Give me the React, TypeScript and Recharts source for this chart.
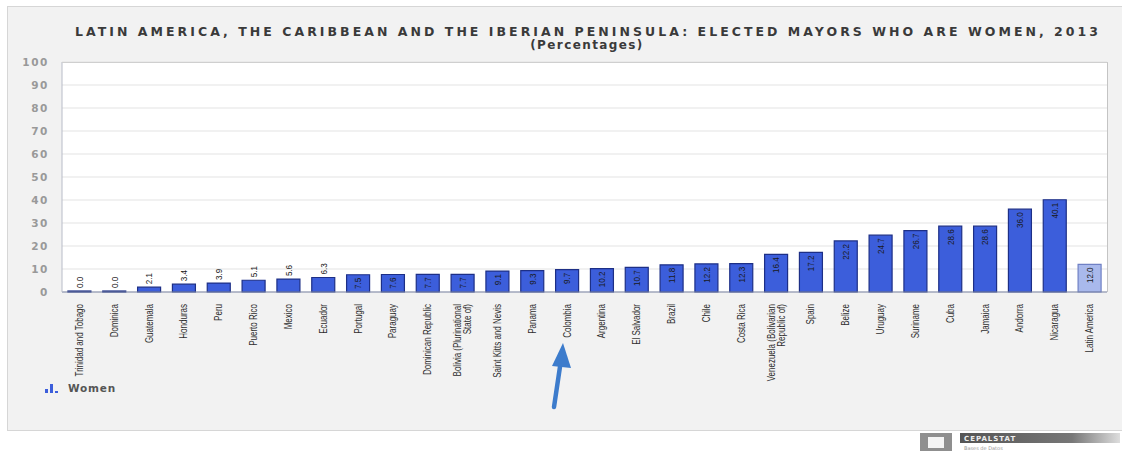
import { BarChart, Bar, XAxis, YAxis, CartesianGrid, Cell, LabelList } from "recharts";

const countries = [
  "Trinidad and Tobago",
  "Dominica",
  "Guatemala",
  "Honduras",
  "Peru",
  "Puerto Rico",
  "Mexico",
  "Ecuador",
  "Portugal",
  "Paraguay",
  "Dominican Republic",
  "Bolivia (Plurinational State of)",
  "Saint Kitts and Nevis",
  "Panama",
  "Colombia",
  "Argentina",
  "El Salvador",
  "Brazil",
  "Chile",
  "Costa Rica",
  "Venezuela (Bolivarian Republic of)",
  "Spain",
  "Belize",
  "Uruguay",
  "Suriname",
  "Cuba",
  "Jamaica",
  "Andorra",
  "Nicaragua",
  "Latin America",
];

const women = [
  0.0, 0.0, 2.1, 3.4, 3.9, 5.1, 5.6, 6.3, 7.5, 7.6, 7.7, 7.7, 9.1, 9.3, 9.7, 10.2, 10.7, 11.8, 12.2, 12.3,
  16.4, 17.2, 22.2, 24.7, 26.7, 28.6, 28.6, 36.0, 40.1, 12.0,
];

const yTicks = [0, 10, 20, 30, 40, 50, 60, 70, 80, 90, 100];

const TITLE = "LATIN AMERICA, THE CARIBBEAN AND THE IBERIAN PENINSULA: ELECTED MAYORS WHO ARE WOMEN, 2013";
const SUBTITLE = "(Percentages)";

const data = countries.map((name, i) => ({ name, value: women[i] }));

const BAR = "#3c5edb";
const BAR_EDGE = "#1d2f86";
const AVG = "#a9b9ec";
const AVG_EDGE = "#6f80c4";
const NARROW = "'Liberation Sans Narrow', 'Liberation Sans', Arial, sans-serif";
const WIDE = "'DejaVu Sans', Verdana, sans-serif";

function wrap(name: string, max = 22) {
  const lines: string[] = [];
  let cur = "";
  for (const w of name.split(" ")) {
    const next = cur ? cur + " " + w : w;
    if (next.length > max && cur) {
      lines.push(cur);
      cur = w;
    } else cur = next;
  }
  lines.push(cur);
  return lines;
}

// rotated, condensed country names (the original uses a narrow face)
function CountryTick({ x, y, payload }: any) {
  const lines = wrap(String(payload.value));
  const lh = 10;
  const start = -((lines.length - 1) * lh) / 2;
  return (
    <text
      transform={`translate(${x},${y + 4}) rotate(-90) scale(0.8,1)`}
      textAnchor="end"
      fontFamily={NARROW}
      fontSize={10}
      fill="#2e2e2e"
    >
      {lines.map((l, i) => (
        <tspan key={i} x={0} y={start + i * lh} dy="0.35em">
          {l}
        </tspan>
      ))}
    </text>
  );
}

function ValueLabel({ x, y, width, height, value }: any) {
  const cx = Number(x) + Number(width) / 2;
  const inside = Number(height) > 16;
  const ty = inside ? Number(y) + 3 : Number(y) - 3;
  return (
    <text
      transform={`translate(${cx},${ty}) rotate(-90) scale(0.85,1)`}
      textAnchor={inside ? "end" : "start"}
      dy="0.35em"
      fontFamily={NARROW}
      fontSize={9.5}
      fill="#1a1a1a"
    >
      {Number(value).toFixed(1)}
    </text>
  );
}

export default function App() {
  return (
    <div style={{ position: "absolute", left: 0, top: 0, width: 1122, height: 455, background: "#fff", overflow: "hidden" }}>
      <div
        style={{
          position: "absolute",
          left: 7,
          top: 6,
          width: 1118,
          height: 423,
          background: "#f2f2f2",
          border: "1px solid #d6d6d6",
        }}
      />
      <div style={{ position: "absolute", left: 0, top: 0 }}>
        <BarChart
          width={1122}
          height={455}
          data={data}
          margin={{ top: 62, right: 15, bottom: 0, left: 0 }}
          barCategoryGap="17%"
        >
          <CartesianGrid vertical={false} stroke="#e3e3e3" fill="#ffffff" />
          <XAxis
            dataKey="name"
            interval={0}
            tick={<CountryTick />}
            tickLine={false}
            axisLine={{ stroke: "#7d86a6" }}
            height={163}
          />
          <YAxis
            domain={[0, 100]}
            ticks={yTicks}
            interval={0}
            width={62}
            tickLine={false}
            axisLine={{ stroke: "#b8bcc8" }}
            tick={{ fill: "#999", fontSize: 10.5, fontFamily: WIDE, fontWeight: "bold", letterSpacing: 1.6 }}
            tickMargin={7}
          />
          <Bar dataKey="value" name="Women" isAnimationActive={false} strokeWidth={1.2} minPointSize={1}>
            {data.map((d, i) => (
              <Cell
                key={`c-${i}`}
                fill={d.name === "Latin America" ? AVG : BAR}
                stroke={d.name === "Latin America" ? AVG_EDGE : BAR_EDGE}
              />
            ))}
            <LabelList dataKey="value" content={<ValueLabel />} />
          </Bar>
        </BarChart>
      </div>
      {/* legend */}
      <div style={{ position: "absolute", left: 44, top: 382, display: "flex", alignItems: "center", gap: 6, fontFamily: WIDE }}>
        <svg width={18} height={12}>
          <rect x={1} y={7} width={3} height={4} fill="#3c5edb" />
          <rect x={6} y={2} width={3} height={9} fill="#3c5edb" />
          <rect x={11} y={9} width={3} height={2} fill="#3c5edb" />
        </svg>
        <span style={{ fontSize: 10.5, fontWeight: "bold", color: "#555", letterSpacing: 0.8 }}>Women</span>
      </div>
      <svg width={1122} height={455} style={{ position: "absolute", left: 0, top: 0, pointerEvents: "none" }}>
        <line x1={1107.5} y1={62} x2={1107.5} y2={292} stroke="#c4c4c4" />
        <line x1={62} y1={62.5} x2={1107.5} y2={62.5} stroke="#cfcfcf" />
        <text
          x={75}
          y={36}
          textLength={1023}
          lengthAdjust="spacing"
          fontFamily={WIDE}
          fontWeight="bold"
          fontSize={12.5}
          fill="#3a3a3a"
        >
          {TITLE}
        </text>
        <text x={587} y={49} textAnchor="middle" fontFamily={WIDE} fontWeight="bold" fontSize={12} letterSpacing={1.4} fill="#3a3a3a">
          {SUBTITLE}
        </text>
        {/* annotation arrow */}
        <line x1={554} y1={407} x2={561} y2={360} stroke="#3d7ccc" strokeWidth={4.5} strokeLinecap="round" />
        <polygon points="563,343 552,366 571,368" fill="#3d7ccc" />
        {/* source logo */}
        <rect x={920} y={433} width={32} height={18} fill="#8f8f8f" />
        <rect x={928} y={437} width={16} height={11} fill="#f4f4f4" />
        <defs>
          <linearGradient id="logoFade" x1="0" x2="1" y1="0" y2="0">
            <stop offset="0" stopColor="#555" />
            <stop offset="0.7" stopColor="#777" />
            <stop offset="1" stopColor="#ddd" />
          </linearGradient>
        </defs>
        <rect x={960} y={433} width={160} height={10} fill="url(#logoFade)" />
        <text x={964} y={441} fontFamily={WIDE} fontWeight="bold" fontSize={7} letterSpacing={1} fill="#eee">
          CEPALSTAT
        </text>
        <text x={964} y={450} fontFamily={WIDE} fontSize={5} fill="#999">
          Bases de Datos
        </text>
      </svg>
    </div>
  );
}
